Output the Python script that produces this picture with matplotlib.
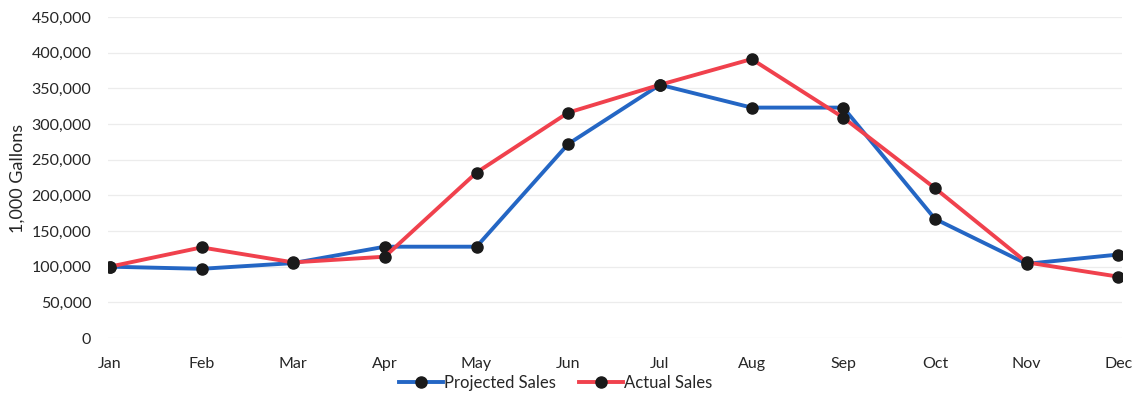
"""
Projected vs actual sales by month
"""
import matplotlib
matplotlib.use("Agg")
import matplotlib.pyplot as plt
from matplotlib.ticker import FuncFormatter

months = ["Jan", "Feb", "Mar", "Apr", "May", "Jun",
          "Jul", "Aug", "Sep", "Oct", "Nov", "Dec"]
projected = [100000, 97000, 105000, 128000, 128000, 272000,
             355000, 323000, 323000, 167000, 104000, 117000]
actual = [100000, 127000, 106000, 114000, 232000, 316000,
          355000, 391000, 309000, 210000, 106000, 86000]

plt.rcParams["font.family"] = ["Lato", "DejaVu Sans"]
text_color = "#262626"

fig = plt.figure(figsize=(11.4, 3.98), dpi=100)
ax = fig.add_axes([108 / 1140, 1 - 338 / 398, (1122 - 108) / 1140, (338 - 17) / 398])

x = list(range(len(months)))
ax.plot(x, projected, color="#2466c4", lw=2.8, marker="o", ms=8,
        mfc="#1a1a1a", mec="#1a1a1a", label="Projected Sales", zorder=3)
ax.plot(x, actual, color="#f0414d", lw=2.8, marker="o", ms=8,
        mfc="#1a1a1a", mec="#1a1a1a", label="Actual Sales", zorder=3)

ax.set_ylim(0, 450000)
ax.set_yticks(range(0, 450001, 50000))
ax.yaxis.set_major_formatter(FuncFormatter(lambda v, p: f"{int(v):,}"))
ax.set_xlim(-0.02, 11.04)
ax.set_xticks(x)
ax.set_xticklabels(months)

ax.grid(axis="y", color="#ececec", lw=0.9)
ax.set_axisbelow(True)
for s in ax.spines.values():
    s.set_visible(False)
ax.tick_params(length=0, labelsize=11.5, colors=text_color)
ax.tick_params(axis="x", pad=14)
ax.tick_params(axis="y", pad=12)

fig.text(18 / 1140, 1 - 178 / 398, "1,000 Gallons", rotation=90,
         ha="center", va="center", fontsize=13, color=text_color)

fig.legend(loc="center", bbox_to_anchor=(556 / 1140, 1 - 383 / 398), ncol=2,
           frameon=False, fontsize=12, handlelength=2.6, handletextpad=0.1,
           columnspacing=1.4, labelcolor=text_color)

fig.savefig("out.png", dpi=100)
